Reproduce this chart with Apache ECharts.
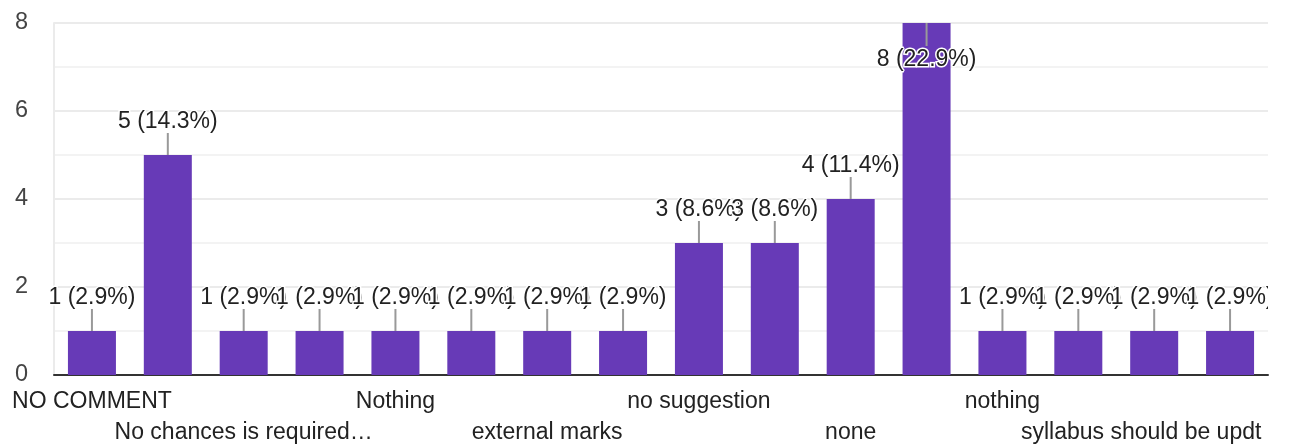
<!DOCTYPE html>
<html>
<head>
<meta charset="utf-8">
<script src="https://cdn.jsdelivr.net/npm/echarts@6/dist/echarts.min.js"></script>
<style>
html,body{margin:0;padding:0;background:#fff;overflow:hidden;}
#chart{width:1290px;height:448px;}
</style>
</head>
<body>
<div id="chart"></div>
<script>
var categories = ["NO COMMENT","No","No chances is required…","No comments","Nothing","Satisfied","external marks","good","no suggestion","no suggestions","none","not required","nothing","ok","syllabus should be updt","very good"];
var counts = [1,5,1,1,1,1,1,1,3,3,4,8,1,1,1,1];
var totalResponses = 35;
var yTicks = [0,2,4,6,8];

var FONT = '"Liberation Sans", Arial, sans-serif';
var maxVal = Math.max.apply(null, counts);
var labelData = counts.map(function(v,i){return [i,v];});

var chart = echarts.init(document.getElementById('chart'), null, {renderer:'canvas'});
chart.setOption({
  animation:false,
  grid:{left:54,right:22,top:23,bottom:73,containLabel:false,outerBoundsMode:'none'},
  xAxis:{
    type:'category',
    data:categories,
    axisLine:{lineStyle:{color:'#333',width:2}},
    axisTick:{show:false},
    splitLine:{show:false},
    axisLabel:{
      interval:0,
      margin:11,
      color:'#222',
      fontFamily:FONT,
      fontSize:23,
      lineHeight:31,
      formatter:function(val, idx){
        if(idx % 2 === 1) return '';
        if(idx === 14) return '\n{r|' + val + '}';
        if(idx % 4 === 2) return '\n' + val;
        return val;
      },
      rich:{r:{fontFamily:FONT,fontSize:23,color:'#222',padding:[0,26,0,0],lineHeight:31}}
    }
  },
  yAxis:{
    type:'value',
    min:yTicks[0],
    max:yTicks[yTicks.length-1],
    interval:2,
    axisLine:{show:true,lineStyle:{color:'#ebebeb',width:2}},
    axisTick:{show:false},
    axisLabel:{color:'#444',fontFamily:FONT,fontSize:23.5,margin:26},
    splitLine:{lineStyle:{color:'#ebebeb',width:2}},
    minorTick:{show:false,splitNumber:2},
    minorSplitLine:{show:true,lineStyle:{color:'#f3f3f3',width:2}}
  },
  series:[
    {
      type:'bar',
      data:counts,
      barWidth:48,
      itemStyle:{color:'#673ab7'},
      z:2
    },
    {
      type:'custom',
      data:labelData,
      clip:false,
      z:5,
      renderItem:function(params, api){
        var v = api.value(1);
        var p = api.coord([api.value(0), v]);
        var cs = params.coordSys;
        var inside = (v === maxVal);
        var lineEnd = inside ? p[1] + 23 : p[1] - 22;
        var textY = inside ? p[1] + 37 : p[1] - 33;
        var pct = (v / totalResponses * 100).toFixed(1);
        return {
          type:'group',
          clipPath:{type:'rect', shape:{x:0, y:0, width:cs.x + cs.width, height:cs.y + cs.height}},
          children:[
            {type:'line', shape:{x1:p[0], y1:p[1], x2:p[0], y2:lineEnd}, style:{stroke:'#999', lineWidth:2}},
            {type:'text', x:p[0], y:textY, style:{
              text: v + ' (' + pct + '%)',
              fill:'#222',
              font:'23px ' + FONT,
              align:'center', verticalAlign:'middle',
              textAlign:'center', textVerticalAlign:'middle',
              stroke:'#fff', lineWidth:3
            }}
          ]
        };
      }
    }
  ]
});
</script>
</body>
</html>
